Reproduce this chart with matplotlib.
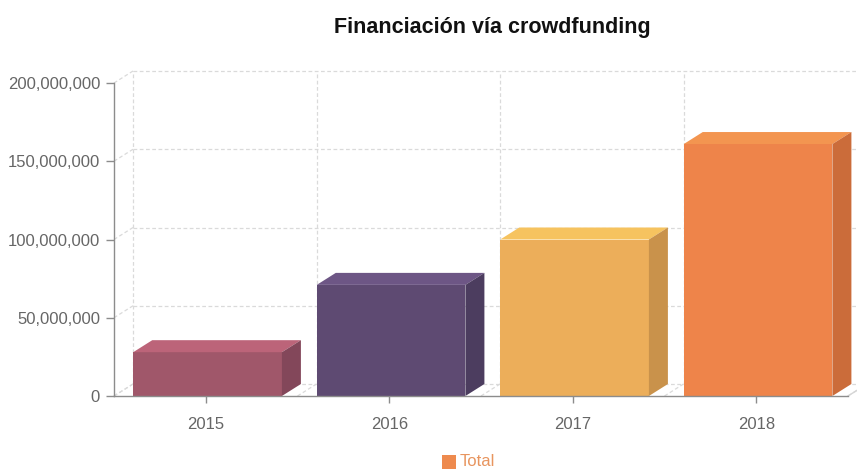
import matplotlib
matplotlib.use("Agg")
import matplotlib.pyplot as plt
from matplotlib.patches import Polygon, Rectangle
from matplotlib.ticker import FuncFormatter

plt.rcParams['font.family'] = ['Liberation Sans', 'DejaVu Sans']

# Data
years = ["2015", "2016", "2017", "2018"]
totals = [28_000_000, 71_000_000, 100_000_000, 161_000_000]
y_ticks = [0, 50_000_000, 100_000_000, 150_000_000, 200_000_000]

# Per-bar face colours: front, top, side
front_colors = ["#A0576A", "#5E4A72", "#ECAE5A", "#EE844A"]
top_colors = ["#BC6479", "#6D5685", "#F6C35F", "#F39550"]
side_colors = ["#83475A", "#4C3D5F", "#C9924B", "#CB6C3A"]

W, H = 857, 470
fig = plt.figure(figsize=(W / 100, H / 100), dpi=100)
ax = fig.add_axes([114 / W, 74 / H, 734 / W, 313 / H])
ax.set_xlim(-0.5, len(years) - 0.5)
ax.set_ylim(0, 200_000_000)
for s in ax.spines.values():
    s.set_visible(False)
ax.patch.set_alpha(0)

# 3D depth offsets converted from pixels to data units
depth_px_x, depth_px_y = 19, 12
ax_w_px = 734
ax_h_px = 313
x_range = ax.get_xlim()[1] - ax.get_xlim()[0]
y_range = ax.get_ylim()[1] - ax.get_ylim()[0]
dx = depth_px_x * x_range / ax_w_px
dy = depth_px_y * y_range / ax_h_px

grid_kw = dict(color="#dadada", lw=0.9, ls=(0, (3, 2)), clip_on=False, zorder=0)
x0, x1 = ax.get_xlim()
# back wall horizontal grid + left wall diagonals
for v in y_ticks:
    ax.plot([x0 + dx, x1 + dx], [v + dy, v + dy], **grid_kw)
    ax.plot([x0, x0 + dx], [v, v + dy], **grid_kw)
# back wall vertical grid + floor diagonals at category boundaries
for i in range(len(years) + 1):
    b = x0 + i
    ax.plot([b + dx, b + dx], [dy, 200_000_000 + dy], **grid_kw)
    ax.plot([b, b + dx], [0, dy], **grid_kw)

# Bars
bw = 0.81
for i, (val, fc, tc, sc) in enumerate(zip(totals, front_colors, top_colors, side_colors)):
    left = i - bw / 2 + 0.01
    right = left + bw
    ax.bar(i + 0.01, val, width=bw, color=fc, edgecolor="none", zorder=3)
    top = Polygon([(left, val), (right, val), (right + dx, val + dy), (left + dx, val + dy)],
                  closed=True, facecolor=tc, edgecolor="none", zorder=3, clip_on=False)
    side = Polygon([(right, 0), (right + dx, dy), (right + dx, val + dy), (right, val)],
                   closed=True, facecolor=sc, edgecolor="none", zorder=3, clip_on=False)
    ax.add_patch(top)
    ax.add_patch(side)

# Axis lines
axis_col = "#8c8c8c"
ax.plot([x0, x0], [0, 200_000_000], color=axis_col, lw=1, clip_on=False, zorder=4)
ax.plot([x0, x1], [0, 0], color=axis_col, lw=1, clip_on=False, zorder=4)
ax.plot([x1, x1 + dx], [0, dy], color="#d5d5d5", lw=1, clip_on=False, zorder=1)

ax.set_yticks(y_ticks)
ax.yaxis.set_major_formatter(FuncFormatter(lambda v, p: f"{int(v):,}"))
ax.set_xticks(range(len(years)))
ax.set_xticklabels(years)
ax.tick_params(axis="y", length=6, width=1, color=axis_col, labelcolor="#666666",
               labelsize=12, pad=4)
ax.tick_params(axis="x", length=5, width=1, color=axis_col, labelcolor="#666666",
               labelsize=12, pad=10)

# Title
fig.text(492 / W, 1 - 28 / H, "Financiación vía crowdfunding", ha="center", va="center",
         fontsize=15.5, fontweight="bold", color="#111111")

# Legend
fig.patches.append(Rectangle((442 / W, 1 - 469 / H), 14 / W, 14 / H,
                             transform=fig.transFigure, facecolor="#EE8A4E",
                             edgecolor="none"))
fig.text(460 / W, 1 - 462 / H, "Total", ha="left", va="center", fontsize=12,
         color="#E8955F")

fig.savefig("out.png", dpi=100)
